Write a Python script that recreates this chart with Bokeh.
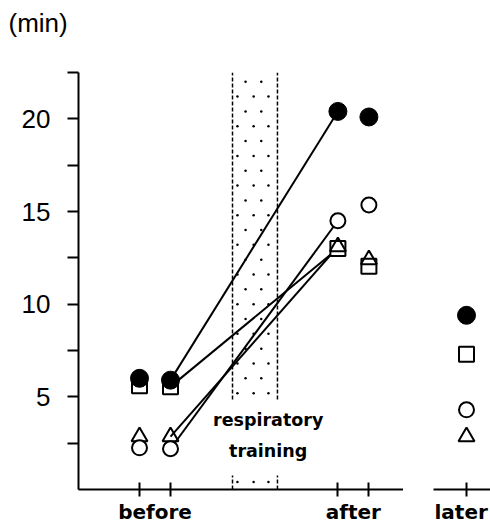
import numpy as np
from bokeh.plotting import figure
from bokeh.models import Range1d, FixedTicker, Title
from bokeh.layouts import row
from bokeh.core.properties import value
from bokeh.embed import file_html
from bokeh.resources import INLINE

# ---- data ----
slot_labels = ["before", "after", "later"]
x_before = [2, 3]
x_after = [8.4, 9.4]
x_later = [1]
filled_circle = [6.0, 5.9, 20.4, 20.1, 9.4]
open_square = [5.6, 5.55, 13.0, 12.05, 7.3]
open_circle = [2.25, 2.2, 14.5, 15.35, 4.3]
open_triangle = [2.85, 2.85, 13.1, 12.4, 2.85]
training_start, training_end = 5.0, 6.45
y_major = [5, 10, 15, 20]
y_minor = [2.5, 7.5, 12.5, 17.5, 22.5]
y_min, y_max = 0, 22.5
unit_label = "(min)"
band_text = ["respiratory", "training"]

NUM_FONT = "Liberation Sans"
TXT_FONT = "DejaVu Sans"
H = 526
TOP = 72

xs_main = x_before + x_after

p1 = figure(width=403, height=H, x_range=Range1d(0.032, 10.516), y_range=Range1d(y_min, y_max),
            output_backend="svg", toolbar_location=None,
            min_border_left=78, min_border_right=0, min_border_top=TOP, min_border_bottom=10)
p2 = figure(width=87, height=H, x_range=Range1d(-0.065, 1.774), y_range=p1.y_range,
            output_backend="svg", toolbar_location=None,
            min_border_left=30, min_border_right=0, min_border_top=TOP, min_border_bottom=10)

for p in (p1, p2):
    p.outline_line_color = None
    p.xgrid.visible = False
    p.ygrid.visible = False
    p.background_fill_color = "white"
    p.border_fill_color = "white"

# unit label as outer title, with a blank spacer title between it and the frame
p1.title.text = unit_label
p1.title.align = "left"
p1.title.offset = -70
p1.title.text_font = NUM_FONT
p1.title.text_font_size = "26px"
p1.title.text_font_style = "normal"
p1.title.text_color = "black"
p1.title.standoff = 10
p1.add_layout(Title(text=" ", text_font_size="1px", standoff=27), "above")

# y axis
ya = p1.yaxis[0]
ya.ticker = FixedTicker(ticks=y_major, minor_ticks=y_minor)
ya.axis_line_width = 2
ya.major_tick_line_width = 2
ya.minor_tick_line_width = 2
ya.major_tick_in = 0
ya.major_tick_out = 11
ya.minor_tick_in = 0
ya.minor_tick_out = 11
ya.major_label_standoff = 17
ya.major_label_text_font = NUM_FONT
ya.major_label_text_font_size = "26px"
ya.major_label_text_color = "black"
p2.yaxis.visible = False

# x axes
mid_before = sum(x_before) / 2
mid_after = sum(x_after) / 2
xa = p1.xaxis[0]
xa.ticker = FixedTicker(ticks=[mid_before, mid_after], minor_ticks=xs_main)
xa.major_label_overrides = {mid_before: slot_labels[0], mid_after: slot_labels[1]}
xa2 = p2.xaxis[0]
xa2.ticker = FixedTicker(ticks=x_later, minor_ticks=x_later)
xa2.major_label_overrides = {x_later[0]: slot_labels[2]}
for xa_ in (xa, xa2):
    xa_.axis_line_width = 2
    xa_.major_tick_line_color = None
    xa_.major_tick_in = 0
    xa_.major_tick_out = 0
    xa_.minor_tick_line_width = 2
    xa_.minor_tick_in = 7
    xa_.minor_tick_out = 7
    xa_.major_label_standoff = 3
    xa_.axis_label_standoff = 0
    xa_.major_label_text_font = TXT_FONT
    xa_.major_label_text_font_size = "20px"
    xa_.major_label_text_font_style = "bold"
    xa_.major_label_text_color = "black"

# training band: dashed edges and staggered stipple
band_w = training_end - training_start
rows = np.arange(y_min + 0.4, y_max, 0.8)
dx, dy = [], []
for k, yy in enumerate(rows):
    fr = (0.11, 0.47, 0.8) if k % 2 == 0 else (0.29, 0.64)
    for f in fr:
        dx.append(training_start + f * band_w)
        dy.append(yy)
p1.scatter(dx, dy, marker="circle", size=2.5, fill_color="black", line_color=None)
p1.segment(x0=[training_start, training_end], y0=[y_min, y_min],
           x1=[training_start, training_end], y1=[y_max, y_max],
           line_color="black", line_width=1.5, line_dash="4 2")
p1.quad(left=[training_start - 0.1], right=[training_end + 0.1], bottom=[0.75], top=[4.8],
        fill_color="white", line_color=None)
p1.text(x=[6.15, 6.15], y=[3.75, 2.1], text=band_text,
        text_font=value(TXT_FONT), text_font_size="17.5px", text_font_style="bold",
        text_align="center", text_baseline="middle", text_color="black")

# connecting lines before(2) -> after(1)
series = [filled_circle, open_square, open_circle, open_triangle]
p1.segment(x0=[x_before[1]] * 4, y0=[s[1] for s in series],
           x1=[x_after[0]] * 4, y1=[s[2] for s in series],
           line_color="black", line_width=2)

def draw(p, xs, idx):
    p.scatter(xs, [open_square[i] for i in idx], marker="square", size=15,
              fill_color="white", line_color="black", line_width=2)
    p.scatter(xs, [open_triangle[i] for i in idx], marker="triangle", size=16,
              fill_color=None, line_color="black", line_width=2)
    p.scatter(xs, [open_circle[i] for i in idx], marker="circle", size=15,
              fill_color="white", line_color="black", line_width=2)
    p.scatter(xs, [filled_circle[i] for i in idx], marker="circle", size=18,
              fill_color="black", line_color="black", line_width=1)

draw(p1, xs_main, [0, 1, 2, 3])
draw(p2, x_later, [4])

layout = row(p1, p2)
open("out.html", "w").write(file_html(layout, INLINE))
